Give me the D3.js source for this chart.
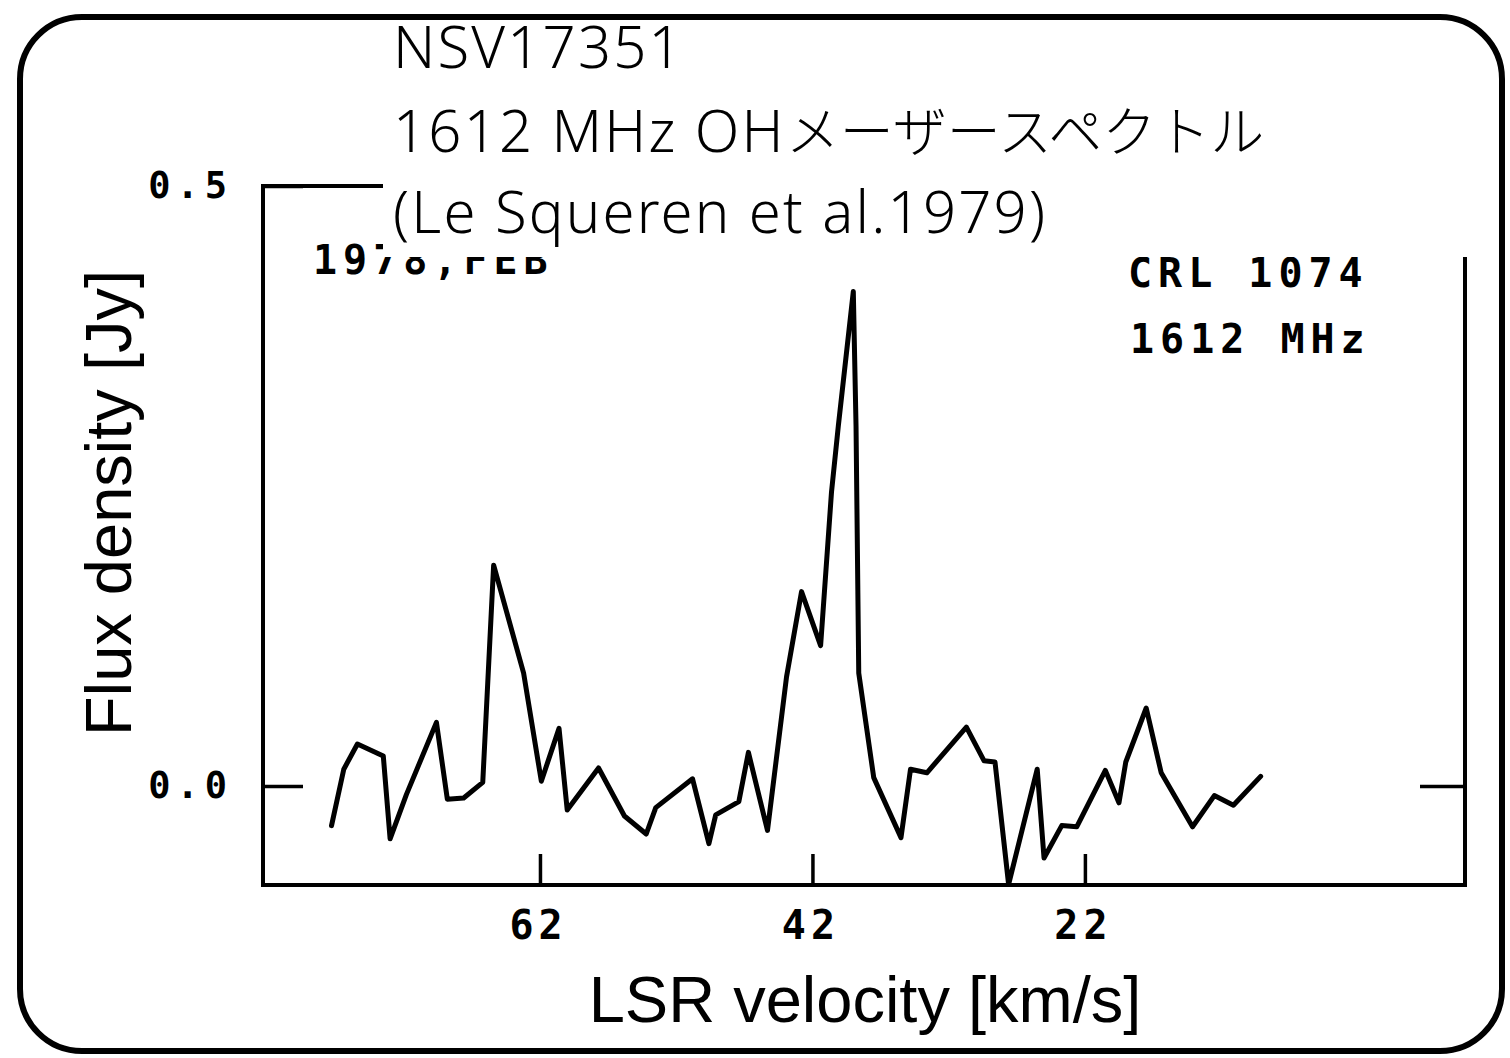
<!DOCTYPE html>
<html>
<head>
<meta charset="utf-8">
<script src="https://cdn.jsdelivr.net/npm/d3@7"></script>
<style>
  html, body { margin: 0; padding: 0; background: #fff; }
  svg { display: block; }
</style>
</head>
<body>
<div id="chart"></div>
<script>
// DATA
var velocity = [77.3, 76.4, 75.4, 73.5, 73.0, 71.8, 69.6, 68.8, 67.6, 66.2,
                65.4, 63.2, 61.9, 60.6, 60.0, 57.7, 55.8, 54.2, 53.5, 50.8,
                49.6, 49.1, 47.4, 46.7, 45.3, 43.9, 42.8, 41.4, 40.6, 40.1,
                39.0, 38.8, 38.6, 37.5, 35.5, 34.8, 33.6, 30.7, 29.4, 28.6,
                27.6, 25.5, 25.0, 23.7, 22.6, 20.5, 19.5, 19.0, 17.5, 16.4,
                14.1, 12.5, 11.1, 9.1];
var flux = [-0.033, 0.014, 0.035, 0.025, -0.044, -0.007, 0.053, -0.011, -0.010, 0.003,
            0.184, 0.094, 0.004, 0.048, -0.020, 0.015, -0.025, -0.040, -0.018, 0.006,
            -0.048, -0.024, -0.013, 0.028, -0.037, 0.091, 0.162, 0.117, 0.245, 0.300,
            0.412, 0.300, 0.094, 0.007, -0.043, 0.014, 0.011, 0.049, 0.021, 0.020,
            -0.082, 0.014, -0.060, -0.033, -0.034, 0.013, -0.014, 0.020, 0.065, 0.011,
            -0.034, -0.008, -0.016, 0.008];
var xTicks = [62, 42, 22];
var yTicks = [0, 0.5];
// title lines, split into latin / japanese runs
var titleLines = [
    [["NSV17351", "lat"]],
    [["1612 MHz OH", "lat"], ["メーザースペクトル", "jp"]],
    [["(Le Squeren et al.1979)", "lat"]]
];
var plotNotes = ["1978,FEB", "CRL  1074", "1612 MHz"];

var svgWidth = 1510;
var svgHeight = 1058;

var svg = d3.select("#chart")
    .append("svg")
    .attr("width", svgWidth)
    .attr("height", svgHeight);

// outer rounded frame
svg.append("rect")
    .attr("x", 20).attr("y", 17)
    .attr("width", 1482).attr("height", 1034)
    .attr("rx", 62).attr("ry", 62)
    .attr("fill", "#fff")
    .attr("stroke", "#000")
    .attr("stroke-width", 6);

// scales
var x = d3.scaleLinear().domain([82.33, -5.9]).range([263, 1465]);
var y = d3.scaleLinear().domain([-0.0825, 0.5]).range([885, 186]);

var g = svg.append("g");

// plot box
g.append("rect")
    .attr("x", x(82.33)).attr("y", y(0.5))
    .attr("width", x(-5.9) - x(82.33))
    .attr("height", y(-0.0825) - y(0.5))
    .attr("fill", "none")
    .attr("stroke", "#000")
    .attr("stroke-width", 4);

var tickFont = "'DejaVu Sans Mono', monospace";

// bottom axis (inward ticks)
var xAxis = g.append("g")
    .attr("transform", "translate(0," + y(-0.0825) + ")")
    .call(d3.axisBottom(x).tickValues(xTicks).tickSizeInner(-31).tickSizeOuter(0).tickPadding(26));
xAxis.select(".domain").remove();
xAxis.selectAll("line").attr("stroke", "#000").attr("stroke-width", 3.5);
xAxis.selectAll("text")
    .attr("font-family", tickFont)
    .attr("font-weight", "bold")
    .attr("font-size", 40)
    .attr("letter-spacing", 5)
    .attr("dx", -2)
    .attr("fill", "#000");

// left axis
var yAxis = g.append("g")
    .attr("transform", "translate(" + x(82.33) + ",0)")
    .call(d3.axisLeft(y).tickValues(yTicks).tickSizeInner(-40).tickSizeOuter(0).tickPadding(30)
        .tickFormat(d3.format(".1f")));
yAxis.select(".domain").remove();
yAxis.selectAll("line").attr("stroke", "#000").attr("stroke-width", 3.5);
yAxis.selectAll("text")
    .attr("font-family", tickFont)
    .attr("font-weight", "bold")
    .attr("font-size", 37)
    .attr("letter-spacing", 6)
    .attr("fill", "#000");

// right axis: just the zero tick
var yAxisR = g.append("g")
    .attr("transform", "translate(" + x(-5.9) + ",0)")
    .call(d3.axisRight(y).tickValues([0]).tickSizeInner(-45).tickSizeOuter(0).tickFormat(""));
yAxisR.select(".domain").remove();
yAxisR.selectAll("line").attr("stroke", "#000").attr("stroke-width", 3.5);

// spectrum
var points = velocity.map(function(v, i) { return { v: v, f: flux[i] }; });
g.append("path")
    .datum(points)
    .attr("fill", "none")
    .attr("stroke", "#000")
    .attr("stroke-width", 5)
    .attr("stroke-linejoin", "round")
    .attr("stroke-linecap", "round")
    .attr("d", d3.line()
        .x(function(d) { return x(d.v); })
        .y(function(d) { return y(d.f); }));

// notes printed inside the original figure
var noteFont = "'DejaVu Sans Mono', monospace";
g.append("text").attr("x", 313).attr("y", 274)
    .attr("font-family", noteFont).attr("font-weight", "bold")
    .attr("font-size", 40).attr("letter-spacing", 6)
    .text(plotNotes[0]);
g.append("text").attr("x", 1128).attr("y", 287)
    .attr("font-family", noteFont).attr("font-weight", "bold")
    .attr("font-size", 40).attr("letter-spacing", 6)
    .text(plotNotes[1]);
g.append("text").attr("x", 1130).attr("y", 353)
    .attr("font-family", noteFont).attr("font-weight", "bold")
    .attr("font-size", 40).attr("letter-spacing", 6)
    .text(plotNotes[2]);

// title block on white background
svg.append("rect")
    .attr("x", 383).attr("y", 40)
    .attr("width", 1090).attr("height", 217)
    .attr("fill", "#fff");

var latFont = "'Noto Sans', 'Noto Sans CJK JP', sans-serif";
var jpFont = "'Noto Sans CJK JP', sans-serif";
var titleY = [68, 152, 233];
var titles = svg.selectAll("text.title")
    .data(titleLines)
    .enter().append("text")
    .attr("class", "title")
    .attr("x", 393)
    .attr("y", function(d, i) { return titleY[i]; })
    .attr("fill", "#000");
titles.selectAll("tspan")
    .data(function(d) { return d; })
    .enter().append("tspan")
    .attr("font-family", function(d) { return d[1] == "jp" ? jpFont : latFont; })
    .attr("font-weight", 300)
    .attr("font-size", function(d) { return d[1] == "jp" ? 54 : 58; })
    .attr("letter-spacing", function(d) { return d[1] == "jp" ? 0 : 2.2; })
    .text(function(d) { return d[0]; });

// axis titles
var labelFont = "'Liberation Sans', Arial, sans-serif";
svg.append("text")
    .attr("x", 865).attr("y", 1022)
    .attr("text-anchor", "middle")
    .attr("font-family", labelFont)
    .attr("font-size", 65)
    .text("LSR velocity [km/s]");

svg.append("text")
    .attr("transform", "translate(131,503) rotate(-90)")
    .attr("text-anchor", "middle")
    .attr("font-family", labelFont)
    .attr("font-size", 65)
    .text("Flux density [Jy]");
</script>
</body>
</html>
